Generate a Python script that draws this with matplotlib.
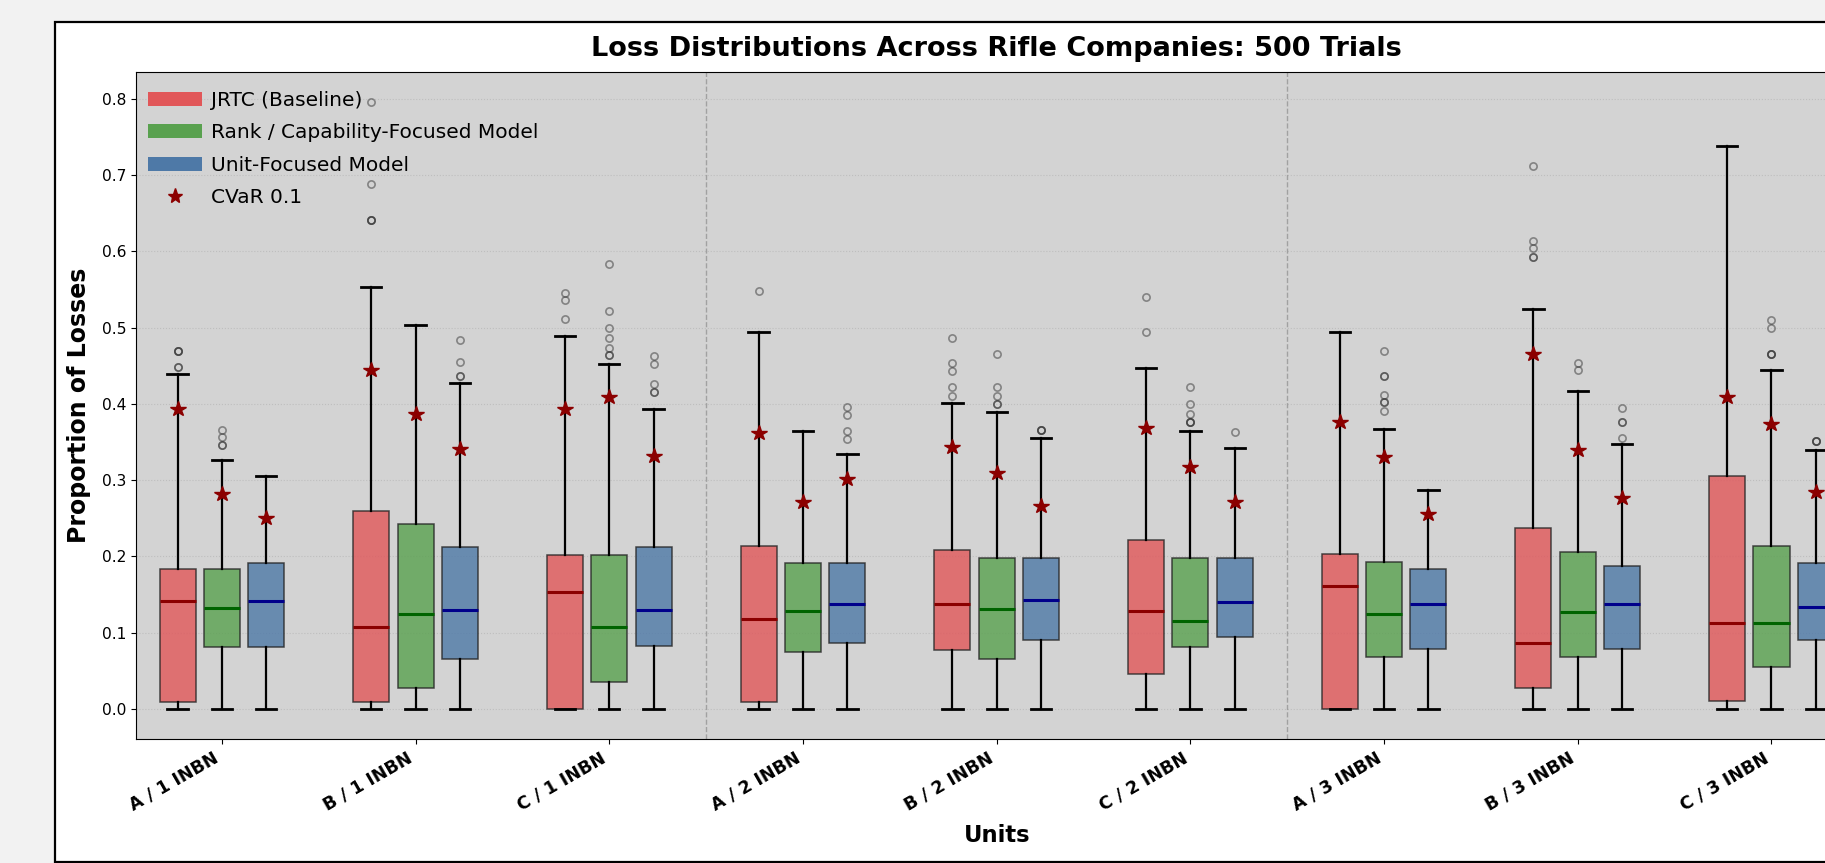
"""
plot.py
-------
Loss distributions per rifle company (500 trials), three models side by side,
with the CVaR 0.1 of every distribution marked as a star.
"""

import matplotlib
matplotlib.use("Agg")
import matplotlib.pyplot as plt
from matplotlib.patches import Patch, Rectangle
from matplotlib.lines import Line2D

# ---- data ----
units = ["A / 1 INBN", "B / 1 INBN", "C / 1 INBN",
         "A / 2 INBN", "B / 2 INBN", "C / 2 INBN",
         "A / 3 INBN", "B / 3 INBN", "C / 3 INBN"]
model_names = ["JRTC (Baseline)", "Rank / Capability-Focused Model", "Unit-Focused Model"]

# JRTC (Baseline)
jrtc_q1 = [0.009, 0.009, 0.000, 0.009, 0.077, 0.046, 0.000, 0.028, 0.011]
jrtc_med = [0.141, 0.107, 0.154, 0.118, 0.138, 0.129, 0.161, 0.087, 0.113]
jrtc_q3 = [0.183, 0.259, 0.202, 0.214, 0.209, 0.222, 0.203, 0.237, 0.305]
jrtc_lo = [0.0, 0.0, 0.0, 0.0, 0.0, 0.0, 0.0, 0.0, 0.0]
jrtc_hi = [0.439, 0.553, 0.489, 0.494, 0.401, 0.447, 0.494, 0.525, 0.739]
jrtc_fliers = [
    [0.448, 0.448, 0.469, 0.469, 0.469],
    [0.641, 0.641, 0.641, 0.689, 0.796],
    [0.512, 0.536, 0.546],
    [0.548],
    [0.411, 0.422, 0.443, 0.454, 0.487],
    [0.494, 0.540],
    [],
    [0.593, 0.593, 0.604, 0.614, 0.712],
    [],
]
jrtc_cvar = [0.393, 0.445, 0.393, 0.362, 0.344, 0.368, 0.377, 0.465, 0.409]

# Rank / Capability-Focused Model
rank_q1 = [0.081, 0.028, 0.035, 0.075, 0.065, 0.081, 0.068, 0.068, 0.055]
rank_med = [0.132, 0.125, 0.107, 0.129, 0.131, 0.116, 0.125, 0.127, 0.113]
rank_q3 = [0.183, 0.242, 0.202, 0.192, 0.198, 0.198, 0.193, 0.206, 0.214]
rank_lo = [0.0, 0.0, 0.0, 0.0, 0.0, 0.0, 0.0, 0.0, 0.0]
rank_hi = [0.326, 0.504, 0.452, 0.365, 0.389, 0.364, 0.367, 0.417, 0.444]
rank_fliers = [
    [0.346, 0.346, 0.357, 0.366],
    [],
    [0.464, 0.464, 0.474, 0.487, 0.499, 0.522, 0.583],
    [],
    [0.400, 0.400, 0.411, 0.422, 0.466],
    [0.376, 0.376, 0.376, 0.387, 0.400, 0.422],
    [0.391, 0.402, 0.402, 0.412, 0.437, 0.437, 0.470],
    [0.445, 0.454],
    [0.465, 0.465, 0.465, 0.499, 0.510],
]
rank_cvar = [0.282, 0.387, 0.409, 0.272, 0.310, 0.317, 0.330, 0.340, 0.374]

# Unit-Focused Model
unit_q1 = [0.081, 0.066, 0.083, 0.086, 0.091, 0.094, 0.079, 0.078, 0.091]
unit_med = [0.141, 0.130, 0.130, 0.138, 0.143, 0.140, 0.137, 0.138, 0.134]
unit_q3 = [0.192, 0.213, 0.213, 0.192, 0.198, 0.198, 0.183, 0.187, 0.192]
unit_lo = [0.0, 0.0, 0.0, 0.0, 0.0, 0.0, 0.0, 0.0, 0.0]
unit_hi = [0.306, 0.428, 0.393, 0.334, 0.356, 0.342, 0.287, 0.347, 0.340]
unit_fliers = [
    [],
    [0.437, 0.437, 0.455, 0.484],
    [0.416, 0.416, 0.426, 0.452, 0.463],
    [0.354, 0.364, 0.386, 0.396],
    [0.366, 0.366, 0.366],
    [0.363],
    [],
    [0.355, 0.376, 0.376, 0.395],
    [0.352, 0.352, 0.352],
]
unit_cvar = [0.251, 0.341, 0.332, 0.301, 0.266, 0.272, 0.256, 0.277, 0.285]

# Warna (Tableau) untuk tiap model
box_colors = ["#E15759", "#59A14F", "#4E79A7"]
median_colors = ["darkred", "darkgreen", "darkblue"]
cvar_color = "#8B0000"

# ---- layout in pixels (reference is 1825 x 863) ----
FIG_W, FIG_H, DPI = 1825, 863, 100
AX_LEFT, AX_TOP, AX_BOTTOM, AX_WIDTH = 136, 71.7, 739.3, 1721.4


def build_stats(q1, med, q3, lo, hi, fliers):
    stats = []
    for i in range(len(q1)):
        stats.append({"q1": q1[i], "med": med[i], "q3": q3[i],
                      "whislo": lo[i], "whishi": hi[i], "fliers": fliers[i]})
    return stats


fig = plt.figure(figsize=(FIG_W / DPI, FIG_H / DPI), dpi=DPI, facecolor="#f2f2f2")

# White figure panel with a black border (screenshot is cropped on the right)
panel = Rectangle((55 / FIG_W, 1 / FIG_H), 1.2, (862 - 22) / FIG_H,
                  transform=fig.transFigure, facecolor="white",
                  edgecolor="black", linewidth=1.6, zorder=-10)
fig.patches.append(panel)

ax = fig.add_axes([AX_LEFT / FIG_W, (FIG_H - AX_BOTTOM) / FIG_H,
                   AX_WIDTH / FIG_W, (AX_BOTTOM - AX_TOP) / FIG_H])
ax.set_facecolor("lightgray")

all_models = [
    (jrtc_q1, jrtc_med, jrtc_q3, jrtc_lo, jrtc_hi, jrtc_fliers, jrtc_cvar),
    (rank_q1, rank_med, rank_q3, rank_lo, rank_hi, rank_fliers, rank_cvar),
    (unit_q1, unit_med, unit_q3, unit_lo, unit_hi, unit_fliers, unit_cvar),
]
offsets = [-0.229, 0.0, 0.229]
box_width = 0.186
centers = list(range(len(units)))

for m, (q1, med, q3, lo, hi, fl, cvar) in enumerate(all_models):
    pos = [c + offsets[m] for c in centers]
    ax.bxp(build_stats(q1, med, q3, lo, hi, fl), positions=pos, widths=box_width,
           capwidths=0.105, patch_artist=True, manage_ticks=False,
           boxprops=dict(facecolor=box_colors[m], alpha=0.8,
                         edgecolor="#222222", linewidth=1.1),
           medianprops=dict(color=median_colors[m], linewidth=2.2),
           whiskerprops=dict(color="black", linewidth=1.6),
           capprops=dict(color="black", linewidth=2.0),
           flierprops=dict(marker="o", markerfacecolor="none",
                           markeredgecolor="#333333", markersize=5.2,
                           markeredgewidth=1.2, alpha=0.5))
    ax.plot(pos, cvar, linestyle="none", marker="*", color=cvar_color,
            markersize=11.5, zorder=5)

# Pemisah antar batalyon
for x_sep in [2.5, 5.5, 8.5]:
    ax.axvline(x_sep, color="gray", linestyle="--", linewidth=1, alpha=0.6)

ax.set_xlim(-0.4435, 8.4435)
ax.set_ylim(-0.0398, 0.8358)
ax.set_yticks([0.0, 0.1, 0.2, 0.3, 0.4, 0.5, 0.6, 0.7, 0.8])
ax.set_yticklabels(["0.0", "0.1", "0.2", "0.3", "0.4", "0.5", "0.6", "0.7", "0.8"],
                   fontsize=11.2)
ax.set_xticks(centers)
ax.set_xticklabels(units, rotation=30, ha="right", fontsize=12.6, fontweight="bold")
ax.grid(axis="y", linestyle=":", color="#b0b0b0", alpha=0.6)
ax.set_axisbelow(True)

ax.set_title("Loss Distributions Across Rifle Companies: 500 Trials",
             fontsize=19.5, fontweight="bold", pad=11)
ax.set_xlabel("Units", fontsize=16.3, fontweight="bold", labelpad=7)
ax.set_ylabel("Proportion of Losses", fontsize=17, fontweight="bold", labelpad=7.5)

handles = [Patch(facecolor=box_colors[k], label=model_names[k]) for k in range(3)]
handles.append(Line2D([], [], linestyle="none", marker="*", color=cvar_color,
                      markersize=11, label="CVaR 0.1"))
ax.legend(handles=handles, loc="upper left", frameon=False, fontsize=14.5,
          handlelength=2.7, handletextpad=0.45, labelspacing=0.67,
          borderaxespad=0, borderpad=0,
          bbox_to_anchor=(12 / AX_WIDTH, 1 - 19 / (AX_BOTTOM - AX_TOP)))

fig.savefig("out.png", dpi=DPI, facecolor=fig.get_facecolor())
print("[INFO] Grafik disimpan ke: out.png")
